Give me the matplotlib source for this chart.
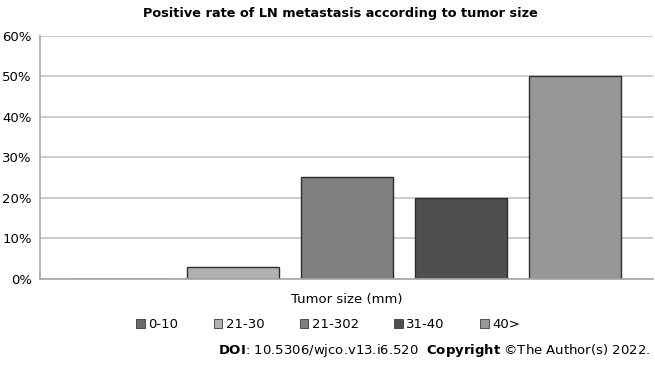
from matplotlib import pyplot as plt
from matplotlib.ticker import PercentFormatter

# data
groups = ['0-10', '21-30', '21-302', '31-40', '40>']
rates = [0, 3, 25, 20, 50]
colours = ['#6b6b6b', '#b2b2b2', '#808080', '#4f4f4f', '#979797']
yticks = [0, 10, 20, 30, 40, 50, 60]

plt.rcParams['font.family'] = 'DejaVu Sans'

fig = plt.figure(figsize=(6.55, 3.74), dpi=100)
ax = fig.add_axes([0.0611, 0.2548, 0.9359, 0.6497])

pos = list(range(len(groups)))
bars = ax.bar(pos, rates, width=0.80, color=colours, edgecolor='#2e2e2e',
              linewidth=1.0, label=groups, zorder=2)

ax.set_xlim(-0.693, 4.684)
ax.set_ylim(0, 60)
ax.set_yticks(yticks)
ax.yaxis.set_major_formatter(PercentFormatter(decimals=0))
ax.set_xticks([])
ax.tick_params(axis='y', length=0, labelsize=9.5, pad=6)
ax.grid(axis='y', color='#c4c4c4', linewidth=1.2, zorder=0)

for s in ['top', 'right']:
    ax.spines[s].set_visible(False)
for s in ['left', 'bottom']:
    ax.spines[s].set_color('#a6a6a6')
    ax.spines[s].set_linewidth(1.2)
    ax.spines[s].set_zorder(3)

fig.text(0.52, 0.965, 'Positive rate of LN metastasis according to tumor size',
         ha='center', va='center', fontsize=9.3, fontweight='bold')
fig.text(0.53, 0.2, 'Tumor size (mm)', ha='center', va='center', fontsize=9.5)

handles = [plt.Rectangle((0, 0), 1, 1, facecolor=c, edgecolor='#3a3a3a', linewidth=0.6)
           for c in colours]
fig.legend(handles, groups, loc='center', bbox_to_anchor=(0.501, 0.133), ncol=5,
           frameon=False, fontsize=9.5, handlelength=0.65, handleheight=0.65,
           handletextpad=0.25, columnspacing=2.7)

fig.text(0.993, 0.062, r'$\bf{DOI}$: 10.5306/wjco.v13.i6.520  $\bf{Copyright}$ ©The Author(s) 2022.',
         ha='right', va='center', fontsize=9.5)

plt.savefig('out.png', dpi=100)
